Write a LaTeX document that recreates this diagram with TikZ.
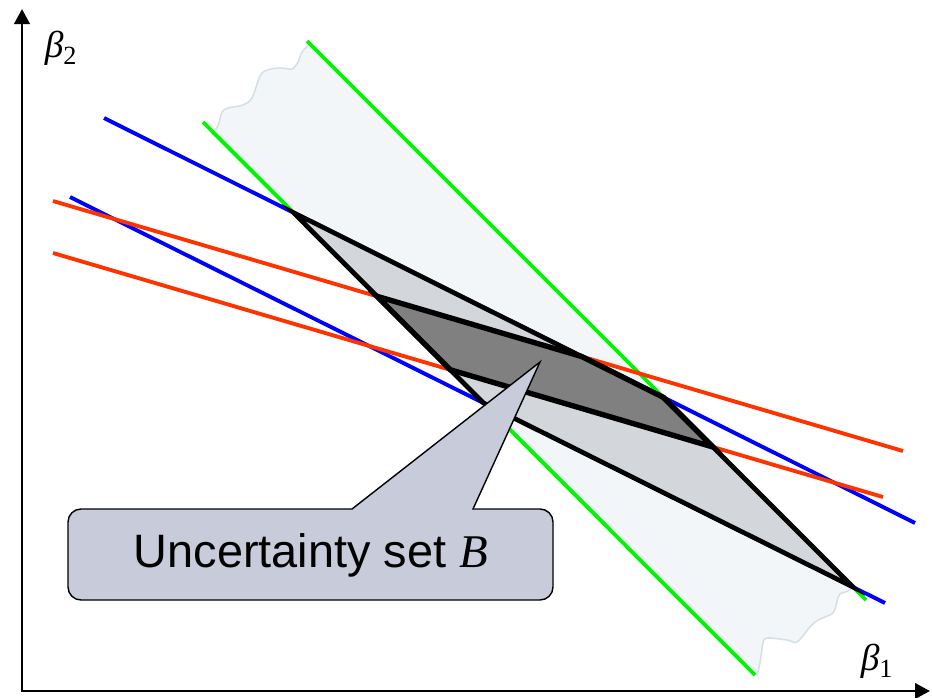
\documentclass[tikz,border=0pt]{standalone}
\usepackage{fontspec}
\newfontfamily\arialfont{Liberation Sans}
\newfontfamily\timesfont{Liberation Serif}
\usetikzlibrary{arrows.meta,intersections}
\definecolor{lg}{HTML}{00F500}
\definecolor{lb}{HTML}{0000FF}
\definecolor{lr}{HTML}{FF3300}
\definecolor{bandc}{HTML}{F2F6F8}
\definecolor{bandedge}{HTML}{D5E0E6}
\definecolor{setlight}{HTML}{D3D6DA}
\definecolor{setdark}{HTML}{808080}
\definecolor{callfill}{HTML}{C8CBDA}

\begin{document}
\begin{tikzpicture}[x=0.03cm,y=-0.03cm,
  axis/.style={line width=2.4pt,line cap=rect,-{Triangle[length=0.45cm,width=0.46cm]}},
  grline/.style={draw=lg,line width=3.3pt},
  blline/.style={draw=lb,line width=3.3pt},
  rdline/.style={draw=lr,line width=3.3pt},
  torn/.style={draw=bandedge,line width=1.3pt},
  setouter/.style={draw=black,fill=setlight,line width=4pt},
  setinner/.style={draw=black,fill=setdark,line width=4.6pt},
  callout/.style={draw=black,fill=callfill,line width=1.2pt},
  axlabel/.style={font=\timesfont\fontsize{32}{36}\selectfont,inner sep=0pt}]
\useasboundingbox (0,0) rectangle (932,697);
% shaded band with torn ends
\fill[bandc] plot[smooth] coordinates {(213,132) (218,126) (222,112) (228,108) (243,105) (252,98) (260,76) (267,70) (280,68) (292,69) (298,62) (302,52) (310,44)}
  -- plot[smooth] coordinates {(853,587) (848,591) (840,594) (837,601) (833,613) (818,620) (810,627) (797,642) (787,640) (767,638) (763,643) (760,663) (757,676)} -- cycle;
\draw[torn] plot[smooth] coordinates {(213,132) (218,126) (222,112) (228,108) (243,105) (252,98) (260,76) (267,70) (280,68) (292,69) (298,62) (302,52) (310,44)};
\draw[torn] plot[smooth] coordinates {(853,587) (848,591) (840,594) (837,601) (833,613) (818,620) (810,627) (797,642) (787,640) (767,638) (763,643) (760,663) (757,676)};
% the six lines
\draw[grline,name path=g1] (203,122) -- (755,675);
\draw[grline,name path=g2] (307,41) -- (866,600);
\draw[blline,name path=b1] (104,118) -- (915,523);
\draw[blline,name path=b2] (70,197) -- (885,603);
\draw[rdline,name path=r1] (53,201) -- (903,451);
\draw[rdline,name path=r2] (53,253) -- (883,497);
% corners of the sets
\path[name intersections={of=g1 and b1,by=a}];
\path[name intersections={of=g2 and b1,by=b}];
\path[name intersections={of=g2 and b2,by=c}];
\path[name intersections={of=g1 and b2,by=d}];
\path[name intersections={of=g1 and r1,by=e}];
\path[name intersections={of=r1 and b1,by=f}];
\path[name intersections={of=g2 and r2,by=g}];
\path[name intersections={of=g1 and r2,by=h}];
\draw[setouter] (a) -- (b) -- (c) -- (d) -- cycle;
\draw[setinner] (e) -- (f) -- (b) -- (g) -- (h) -- cycle;
% callout
\draw[callout] (352,509) -- (540,362) -- (473,509) -- (540,509)
  arc[start angle=90,end angle=0,radius=0.39cm] -- (553,587)
  arc[start angle=0,end angle=-90,radius=0.39cm] -- (81,600)
  arc[start angle=-90,end angle=-180,radius=0.39cm] -- (68,522)
  arc[start angle=180,end angle=90,radius=0.39cm] -- cycle;
\node[font=\arialfont\fontsize{40}{48}\selectfont,inner sep=0pt] (setlabel) at (311,555) {Uncertainty set {\timesfont\itshape B}};
% axes
\coordinate (o) at (22,691);
\draw[axis] (o) -- (22,9);
\draw[axis] (o) -- (930,691);
\node[axlabel] (beta2) at (61,48) {{\itshape β}\textsubscript{2}};
\node[axlabel] (beta1) at (877,661) {{\itshape β}\textsubscript{1}};
\end{tikzpicture}
\end{document}
